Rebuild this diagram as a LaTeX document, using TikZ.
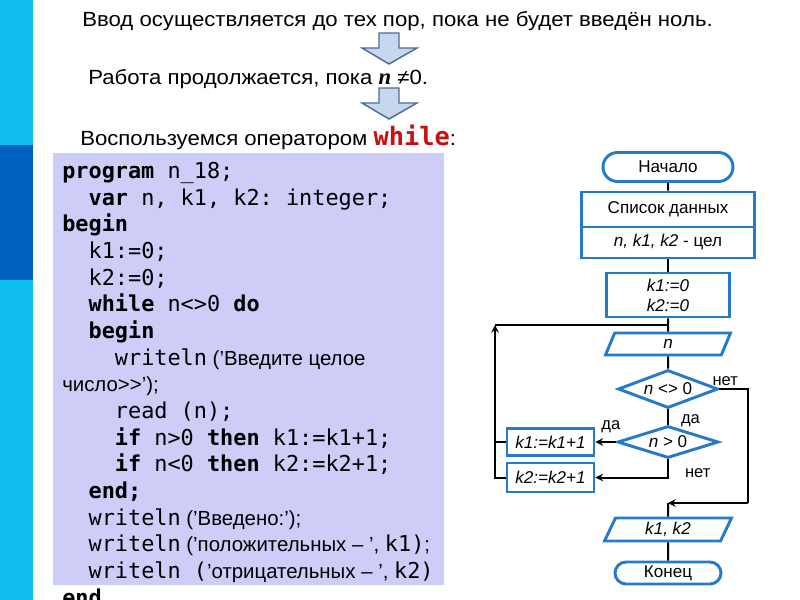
\documentclass[tikz,border=0pt]{standalone}
\usepackage{fontspec}
\setmainfont{Liberation Sans}
\setmonofont{DejaVu Sans Mono}
\newfontfamily\serifbi{Liberation Serif}
\newfontfamily\headfont{Liberation Sans}[FakeStretch=1.08]
\usetikzlibrary{shapes.geometric, shapes.misc, arrows, positioning}

\definecolor{barcyan}{RGB}{16,188,238}
\definecolor{bardark}{RGB}{0,98,190}
\definecolor{codebg}{RGB}{205,205,248}
\definecolor{fcblue}{RGB}{38,122,202}
\definecolor{arrfill}{RGB}{198,216,238}
\definecolor{arredge}{RGB}{80,108,146}
\definecolor{kwred}{RGB}{200,16,16}

\newcommand{\pxu}{0.75pt}
\newcommand{\kw}[1]{\textbf{#1}}
\newcommand{\ind}{\hphantom{xx}}
\newcommand{\rus}[1]{{\rmfamily\fontsize{15.3}{20}\selectfont #1}}

\tikzset{
    fcline/.style = {draw=fcblue, line width=2.2pt, fill=white, font=\fontsize{12.8}{14}\selectfont},
    terminal/.style = {fcline, rounded rectangle, inner sep=0pt},
    process/.style = {fcline, rectangle, inner sep=0pt, text centered},
    io/.style = {fcline, trapezium, trapezium stretches body, trapezium left angle=45, trapezium right angle=135, inner sep=0pt},
    decision/.style = {fcline, diamond, aspect=2.6, inner sep=0pt},
    link/.style = {line width=1.5pt},
    arrow/.style = {link, ->, >=stealth},
    lbl/.style = {font=\fontsize{12.4}{14}\selectfont, inner sep=1pt},
    titletext/.style = {font=\headfont\fontsize{15.4}{18}\selectfont, inner sep=0pt, anchor=base west},
    blockarrow/.style = {fill=arrfill, draw=arredge, line width=1.1pt, line join=miter},
    codetext/.style = {font=\fontsize{16.4}{20}\ttfamily, align=left, inner sep=0pt, anchor=base west}
}

\begin{document}
\begin{tikzpicture}[x=0.75pt, y=-0.75pt]
\useasboundingbox (0,0) rectangle (800,600);

% --- SIDE BAR ---
\fill[barcyan] (0,0) rectangle (33,600);
\fill[bardark] (0,145) rectangle (33,280);

% --- HEADINGS ---
\node[titletext] (line1) at (82,26) {Ввод осуществляется до тех пор, пока не будет введён ноль.};
\node[titletext] (line2) at (88,84) {Работа продолжается, пока {\serifbi\bfseries\itshape\fontsize{17}{18}\selectfont n} ≠0.};
\node[titletext] (line3) at (80,145) {Воспользуемся оператором \textcolor{kwred}{\ttfamily\bfseries\fontsize{19}{19}\selectfont while}:};
\foreach \ytop in {33,88}
    \draw[blockarrow] (379,\ytop) -- ++(20,0) -- ++(0,15) -- ++(18,0) -- ++(-28,16) -- ++(-27,-16) -- ++(17,0) -- cycle;

% --- PROGRAM TEXT ---
% base anchor sits on the last line (end), 16 lines below program
\fill[codebg] (53,153) rectangle (444,585);
\node[codetext] (code) at (62,605) {%
\kw{program} n\_18;\\
\ind\kw{var} n, k1, k2: integer;\\
\kw{begin}\\
\ind k1:=0;\\
\ind k2:=0;\\
\ind\kw{while} n<>0 \kw{do}\\
\ind\kw{begin}\\
\ind\ind writeln\rus{ ('Введите целое}\\
\rus{число>{}>');}\\
\ind\ind read (n);\\
\ind\ind\kw{if} n>0 \kw{then} k1:=k1+1;\\
\ind\ind\kw{if} n<0 \kw{then} k2:=k2+1;\\
\ind\kw{end;}\\
\ind writeln\rus{ ('Введено:');}\\
\ind writeln\rus{ ('положительных – ', }k1)\rus{;}\\
\ind writeln (\rus{'отрицательных – ', }k2)\\
\kw{end}};

% --- FLOWCHART ---
\node (start) [terminal, minimum width=130*\pxu, minimum height=29*\pxu] at (668,167) {Начало};
\node (datahead) [process, minimum width=173*\pxu, minimum height=35*\pxu] at (668,209.5) {Список данных};
\node (datatype) [process, minimum width=173*\pxu, minimum height=31*\pxu, below=-2.2pt of datahead] {\textit{n, k1, k2} - цел};
\node (init) [process, align=center, minimum width=123*\pxu, minimum height=44*\pxu] at (668,295) {\textit{k1:=0}\\[1pt]\textit{k2:=0}};
\node (inputn) [io, minimum width=125*\pxu, minimum height=22*\pxu] at (668,344) {\textit{n}};
\node (cond1) [decision, minimum width=100*\pxu, minimum height=38*\pxu] at (668,389) {\textit{n} <> 0};
\node (cond2) [decision, minimum width=101*\pxu, minimum height=32*\pxu] at (668,442) {\textit{n} > 0};
\node (inc1) [process, minimum width=87*\pxu, minimum height=27*\pxu] at (550.5,442) {\textit{k1:=k1+1}};
\node (inc2) [process, minimum width=87*\pxu, minimum height=29*\pxu] at (550.5,477.5) {\textit{k2:=k2+1}};
\node (output) [io, trapezium left angle=53, trapezium right angle=127, minimum width=127*\pxu, minimum height=23*\pxu] at (668,529.5) {\textit{k1, k2}};
\node (stop) [terminal, minimum width=106*\pxu, minimum height=22*\pxu] at (668,573) {Конец};

\coordinate (loopup) at (495,325);
\coordinate (loopend) at (668,325);
\coordinate (exitc) at (748,503);
\coordinate (exitj) at (668,503);

% main line
\draw[link] (start) -- (datahead);
\draw[link] (datatype) -- (init);
\draw[link] (init) -- (inputn);
\draw[link] (inputn) -- (cond1);
\draw[link] (cond1) -- node[lbl, anchor=west, pos=0.75, xshift=8pt] {да} (cond2);

% branches
\draw[arrow] (cond2.west) -- node[lbl, anchor=south, pos=0.25, yshift=5pt] {да} (inc1.east);
\draw[arrow] (cond2.south) |- node[lbl, anchor=south west, pos=0.5, xshift=11pt, yshift=-2pt] {нет} (inc2.east);

% loop back
\draw[link] (inc1.west) -- (inc1.west -| loopup);
\draw[arrow] (inc2.west) -- (inc2.west -| loopup) -- (loopup);
\draw[link] (loopup) -- (loopend);

% exit
\draw[link] (cond1.east) -- node[lbl, anchor=south, pos=0.2, yshift=1pt] {нет} (cond1.east -| exitc) -- (exitc);
\draw[arrow] (exitc) -- (exitj);
\draw[link] (exitj) -- (output);
\draw[link] (output) -- (stop);

\end{tikzpicture}
\end{document}
